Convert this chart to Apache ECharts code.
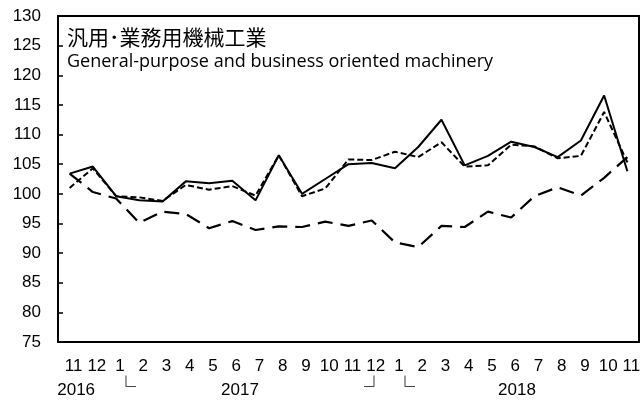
<!DOCTYPE html>
<html>
<head>
<meta charset="utf-8">
<script src="https://cdn.jsdelivr.net/npm/echarts@6/dist/echarts.min.js"></script>
<style>
  html, body { margin: 0; padding: 0; background: #fff; }
  #chart { width: 644px; height: 401px; }
</style>
</head>
<body>
<div id="chart"></div>
<script>
// 2016/11 - 2018/11
var months = ['11', '12', '1', '2', '3', '4', '5', '6', '7', '8', '9', '10', '11', '12',
              '1', '2', '3', '4', '5', '6', '7', '8', '9', '10', '11'];
var solidLine = [103.4, 104.6, 99.6, 98.9, 98.7, 102.1, 101.8, 102.2, 98.9, 106.5, 100.0, 102.5, 105.0,
                 105.2, 104.3, 107.9, 112.5, 104.8, 106.4, 108.8, 107.9, 106.2, 109.0, 116.6, 103.8];
var shortDash = [101.0, 104.3, 99.6, 99.4, 98.8, 101.5, 100.7, 101.3, 99.7, 106.5, 99.6, 100.9, 105.8,
                 105.7, 107.1, 106.2, 108.7, 104.6, 104.8, 108.3, 108.0, 106.0, 106.4, 113.8, 105.3];
var longDash = [103.4, 100.3, 99.2, 95.1, 97.0, 96.6, 94.2, 95.4, 93.9, 94.5, 94.4, 95.3, 94.6,
                95.5, 91.8, 91.0, 94.6, 94.4, 97.0, 96.0, 99.6, 101.1, 99.7, 102.7, 106.2];
// year row under the month labels (position in category units)
var yearText = ['2016', '└', '2017', '┘', '└', '2018'];
var yearPos = [0.28, 2.43, 7.33, 13.1, 14.43, 19.25];

var chart = echarts.init(document.getElementById('chart'));

var option = {
    animation: false,
    title: {
        text: '汎用･業務用機械工業',
        subtext: 'General-purpose and business oriented machinery',
        left: 62,
        top: 22,
        itemGap: 5,
        textStyle: {
            fontFamily: 'Noto Sans CJK JP',
            fontSize: 21,
            fontWeight: 'normal',
            color: '#000'
        },
        subtextStyle: {
            fontFamily: 'Open Sans',
            fontSize: 18,
            color: '#000'
        }
    },
    grid: {
        left: 58,
        right: 5,
        top: 16,
        bottom: 59,
        show: true,
        borderColor: '#000',
        borderWidth: 2
    },
    xAxis: {
        type: 'category',
        data: months,
        boundaryGap: true,
        axisLine: { lineStyle: { color: '#000', width: 2 } },
        axisTick: { inside: true, length: 5, lineStyle: { color: '#000', width: 1.5 } },
        axisLabel: {
            interval: 0,
            color: '#000',
            fontFamily: 'Liberation Sans',
            fontSize: 17,
            margin: 16,
            padding: [0, 0, 0, 8]
        }
    },
    yAxis: {
        type: 'value',
        min: 75,
        max: 130,
        interval: 5,
        splitLine: { show: false },
        axisLine: { show: true, lineStyle: { color: '#000', width: 2 } },
        axisTick: { show: true, inside: true, length: 5, lineStyle: { color: '#000', width: 1.5 } },
        axisLabel: {
            color: '#000',
            fontFamily: 'Liberation Sans',
            fontSize: 17,
            margin: 17
        }
    },
    series: [
        {
            type: 'line',
            data: solidLine,
            symbol: 'none',
            lineStyle: { color: '#000', width: 2 }
        },
        {
            type: 'line',
            data: shortDash,
            symbol: 'none',
            lineStyle: { color: '#000', width: 2, type: [6, 3] }
        },
        {
            type: 'line',
            data: longDash,
            symbol: 'none',
            lineStyle: { color: '#000', width: 2.2, type: [15, 8] }
        }
    ]
};
chart.setOption(option);

// place year labels through the category axis
var y = chart.convertToPixel({ yAxisIndex: 0 }, 75) + 48;
var x0 = chart.convertToPixel({ xAxisIndex: 0 }, 0);
var step = chart.convertToPixel({ xAxisIndex: 0 }, 1) - x0;
var texts = yearText.map(function (t, i) {
    return {
        type: 'text',
        x: x0 + step * yearPos[i],
        y: t.length > 1 ? y : y - 4,
        style: {
            text: t,
            fill: '#000',
            font: (t.length > 1 ? '17px "Liberation Sans"' : '20px "Noto Sans CJK JP"'),
            align: 'center',
            verticalAlign: 'middle'
        }
    };
});
chart.setOption({ graphic: texts });
</script>
</body>
</html>
